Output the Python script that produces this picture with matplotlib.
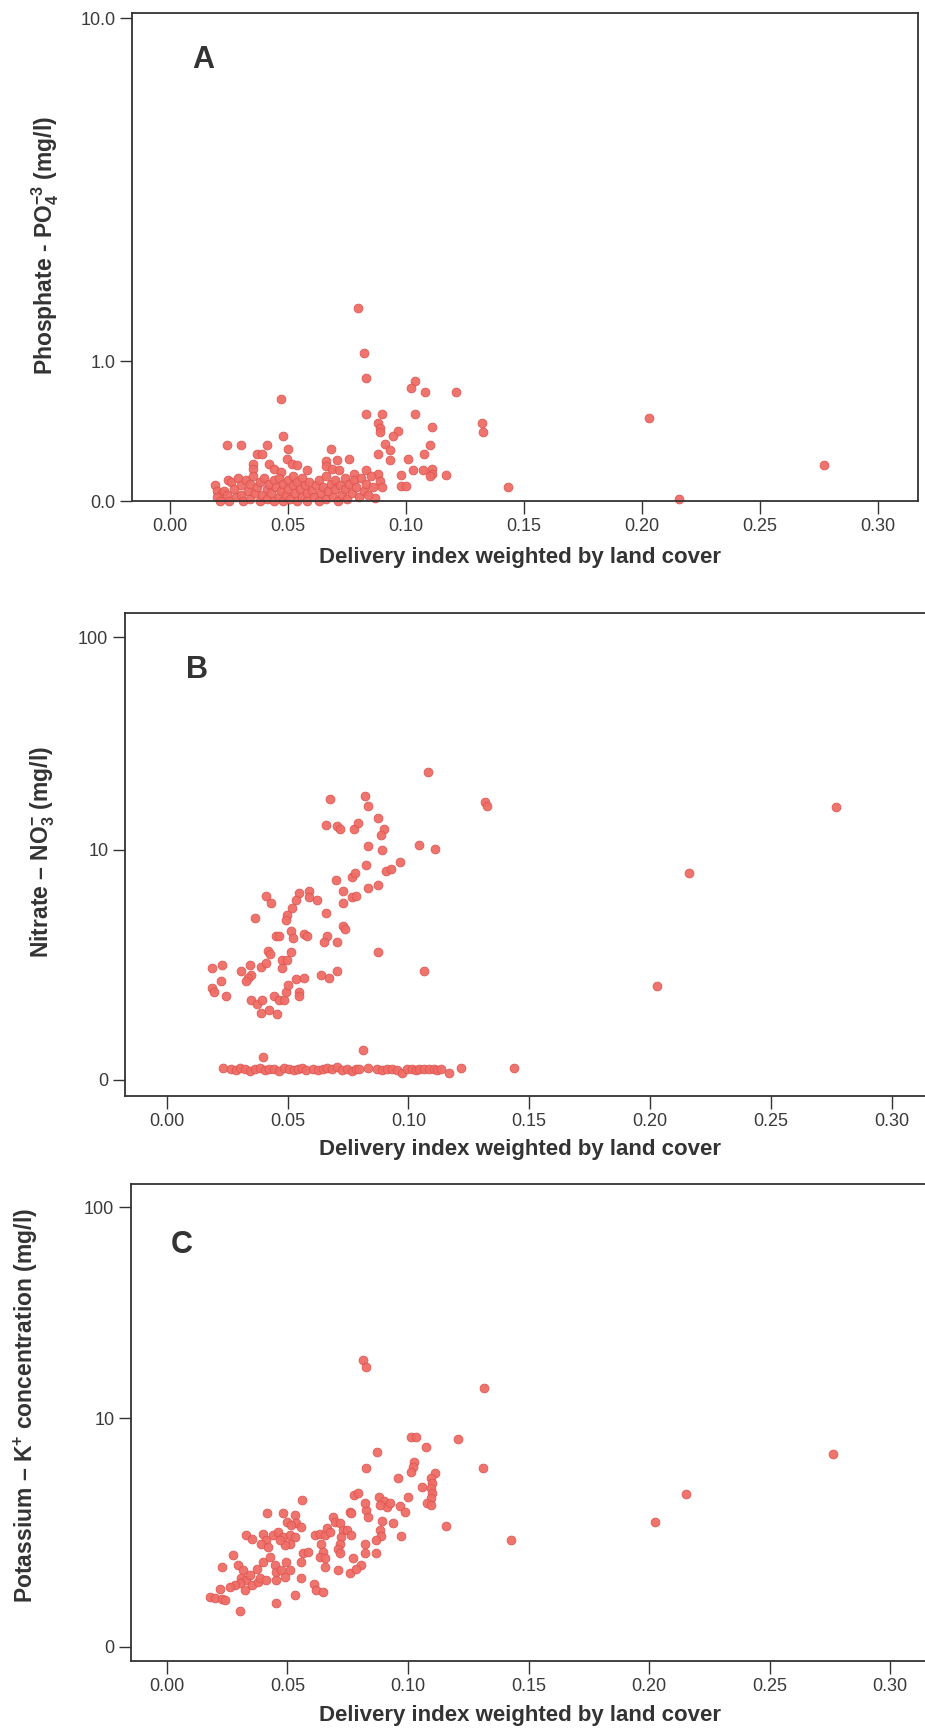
"""Three stacked scatter panels: nutrient concentration vs delivery index."""

import numpy as np
import matplotlib
matplotlib.use("Agg")
import matplotlib.pyplot as plt

plt.rcParams["font.family"] = ["Liberation Sans", "DejaVu Sans"]
plt.rcParams["mathtext.fontset"] = "custom"
plt.rcParams["mathtext.rm"] = "Liberation Sans:bold"
plt.rcParams["mathtext.default"] = "rm"

W, H = 925, 1730

# --- data -------------------------------------------------------------------
# Panel A: phosphate
a_x = [0.0796, 0.082, 0.083, 0.104, 0.102, 0.108, 0.121, 0.047, 0.083, 0.090,
       0.104, 0.088, 0.089, 0.089, 0.111, 0.132, 0.1325, 0.0965, 0.0944, 0.048,
       0.024, 0.030, 0.041, 0.050, 0.068, 0.091, 0.093, 0.110, 0.1075, 0.088,
       0.093, 0.101, 0.076, 0.037, 0.039, 0.035, 0.035, 0.042, 0.044, 0.047,
       0.0495, 0.0516, 0.054, 0.058, 0.066, 0.066, 0.0686, 0.0715, 0.0707, 0.083,
       0.078, 0.103, 0.107, 0.111, 0.111, 0.110, 0.117, 0.098, 0.098, 0.100,
       0.088, 0.089, 0.090, 0.143, 0.0246, 0.019, 0.020, 0.022, 0.023, 0.087,
       0.203, 0.2155, 0.277,
       0.026, 0.027, 0.028, 0.029, 0.030, 0.030, 0.031, 0.032, 0.033, 0.034,
       0.034, 0.035, 0.036, 0.037, 0.038, 0.038, 0.039, 0.040, 0.041, 0.041,
       0.042, 0.043, 0.044, 0.044, 0.045, 0.046, 0.046, 0.047, 0.048, 0.048,
       0.049, 0.050, 0.050, 0.051, 0.052, 0.052, 0.053, 0.054, 0.054, 0.055,
       0.056, 0.056, 0.057, 0.058, 0.058, 0.059, 0.060, 0.061, 0.062, 0.063,
       0.063, 0.064, 0.065, 0.066, 0.066, 0.067, 0.068, 0.069, 0.070, 0.070,
       0.071, 0.072, 0.073, 0.074, 0.074, 0.075, 0.076, 0.077, 0.078, 0.079,
       0.080, 0.081, 0.082, 0.083, 0.084, 0.085, 0.086, 0.020, 0.021, 0.024,
       0.025]
a_y = [1.61, 1.087, 0.844, 0.816, 0.754, 0.719, 0.719, 0.661, 0.541, 0.541,
       0.541, 0.474, 0.438, 0.409, 0.445, 0.474, 0.409, 0.416, 0.382, 0.382,
       0.321, 0.321, 0.321, 0.295, 0.295, 0.328, 0.289, 0.321, 0.263, 0.263,
       0.226, 0.232, 0.232, 0.263, 0.263, 0.202, 0.172, 0.202, 0.172, 0.155,
       0.232, 0.202, 0.196, 0.167, 0.220, 0.190, 0.172, 0.167, 0.226, 0.167,
       0.144, 0.167, 0.167, 0.172, 0.144, 0.132, 0.138, 0.138, 0.077, 0.077,
       0.144, 0.104, 0.072, 0.072, 0.110, 0.083, 0.051, 0.040, 0.051, 0.015,
       0.511, 0.010, 0.196,
       0.10, 0.06, 0.02, 0.12, 0.08, 0.03, 0.00, 0.11, 0.05, 0.09,
       0.01, 0.13, 0.04, 0.07, 0.00, 0.10, 0.03, 0.12, 0.06, 0.01,
       0.09, 0.04, 0.11, 0.00, 0.07, 0.02, 0.12, 0.05, 0.09, 0.00,
       0.03, 0.11, 0.06, 0.01, 0.08, 0.13, 0.04, 0.10, 0.00, 0.06,
       0.02, 0.12, 0.08, 0.04, 0.00, 0.10, 0.05, 0.02, 0.08, 0.00,
       0.11, 0.04, 0.07, 0.01, 0.13, 0.05, 0.09, 0.02, 0.11, 0.06,
       0.00, 0.08, 0.03, 0.12, 0.06, 0.01, 0.09, 0.04, 0.11, 0.07,
       0.02, 0.12, 0.05, 0.09, 0.03, 0.13, 0.07, 0.02, 0.00, 0.03,
       0.00]

# Panel B: nitrate
b_x = [0.1083, 0.1318, 0.1325, 0.0676, 0.0821, 0.0831, 0.0658, 0.0704, 0.0717, 0.0775,
       0.0793, 0.0876, 0.0897, 0.0888, 0.0831, 0.0890, 0.1042, 0.1109, 0.0964, 0.0907,
       0.0927, 0.0826, 0.0766, 0.0779, 0.0699, 0.0731, 0.0831, 0.0876, 0.0768, 0.0785,
       0.0730, 0.0410, 0.0430, 0.0548, 0.0589, 0.0589, 0.0620, 0.0534, 0.0520, 0.0499,
       0.0495, 0.0364, 0.0658, 0.0730, 0.0738, 0.0451, 0.0465, 0.0513, 0.0524, 0.0568,
       0.0579, 0.0662, 0.0651, 0.0704, 0.0876, 0.0419, 0.0426, 0.0513, 0.0476, 0.0499,
       0.0189, 0.0230, 0.0306, 0.0345, 0.0348, 0.0334, 0.0327, 0.0389, 0.0410, 0.0475,
       0.0224, 0.0189, 0.0196, 0.0244, 0.0348, 0.0375, 0.0396, 0.0389, 0.0423, 0.0458,
       0.0444, 0.0465, 0.0486, 0.0492, 0.0502, 0.0534, 0.0566, 0.0548, 0.0548, 0.0637,
       0.0672, 0.0704, 0.1065, 0.203, 0.216, 0.277,
       0.0400, 0.0813,
       0.0234, 0.0265, 0.0285, 0.0305, 0.0325, 0.0345, 0.0365, 0.0385, 0.0405, 0.0425,
       0.0445, 0.0465, 0.0485, 0.0505, 0.0525, 0.0545, 0.0560, 0.0575, 0.0603, 0.0625,
       0.0645, 0.0665, 0.0685, 0.0705, 0.0725, 0.0745, 0.0765, 0.0785, 0.0796, 0.0831,
       0.0872, 0.0892, 0.0912, 0.0932, 0.0952, 0.0975, 0.0995, 0.1015, 0.1030, 0.1044,
       0.1065, 0.1085, 0.1105, 0.1120, 0.1134, 0.1166, 0.1217, 0.1435]
b_y = [23.7, 17.1, 16.4, 17.6, 18.2, 16.4, 13.2, 13.1, 12.7, 12.7,
       13.5, 14.3, 12.6, 11.9, 10.5, 10.0, 10.6, 10.1, 8.7, 7.8,
       8.0, 8.4, 7.3, 7.6, 7.0, 6.2, 6.4, 6.6, 5.7, 5.8,
       5.3, 5.8, 5.3, 6.0, 6.2, 5.7, 5.5, 5.5, 5.0, 4.6,
       4.3, 4.4, 4.7, 4.0, 3.8, 3.5, 3.5, 3.7, 3.4, 3.6,
       3.5, 3.5, 3.2, 3.2, 2.8, 2.85, 2.7, 2.8, 2.5, 2.5,
       2.2, 2.3, 2.1, 2.3, 2.0, 1.9, 1.8, 2.25, 2.4, 2.2,
       1.8, 1.6, 1.5, 1.4, 1.3, 1.2, 1.3, 1.0, 1.07, 0.99,
       1.4, 1.3, 1.3, 1.5, 1.7, 1.86, 1.9, 1.5, 1.4, 2.0,
       1.9, 2.1, 2.1, 1.65, 7.6, 16.2,
       0.275, 0.368,
       0.13, 0.12, 0.11, 0.13, 0.12, 0.10, 0.12, 0.13, 0.11, 0.12,
       0.12, 0.10, 0.13, 0.12, 0.11, 0.12, 0.13, 0.11, 0.12, 0.11,
       0.12, 0.13, 0.12, 0.14, 0.11, 0.12, 0.10, 0.12, 0.12, 0.13,
       0.12, 0.11, 0.12, 0.12, 0.11, 0.08, 0.12, 0.12, 0.11, 0.12,
       0.12, 0.12, 0.12, 0.11, 0.12, 0.08, 0.13, 0.13]

# Panel C: potassium
c_x = [0.0813, 0.0824, 0.1314, 0.1014, 0.1034, 0.1208, 0.1076, 0.0871, 0.1311, 0.0824,
       0.1027, 0.1020, 0.1014, 0.1114, 0.1097, 0.1101, 0.1097, 0.1101, 0.1097, 0.1077,
       0.1097, 0.1058, 0.0957, 0.1000, 0.0775, 0.0793, 0.0880, 0.0900, 0.0913, 0.0882,
       0.0924, 0.0965, 0.0986, 0.0892, 0.0937, 0.1156, 0.0972, 0.0882, 0.0889, 0.0869,
       0.0820, 0.0823, 0.0869, 0.0772, 0.0806, 0.0758, 0.0785, 0.0710, 0.0654, 0.0758,
       0.0765, 0.0827, 0.0834, 0.0820, 0.0689, 0.0696, 0.0717, 0.0731, 0.0724, 0.0717,
       0.0710, 0.0717, 0.0745, 0.0765, 0.0613, 0.0634, 0.0655, 0.0662, 0.0676, 0.0641,
       0.0648, 0.0634, 0.0655, 0.0562, 0.0416, 0.0482, 0.0497, 0.0532, 0.0537, 0.0558,
       0.0516, 0.0330, 0.0351, 0.0399, 0.0413, 0.0392, 0.0420, 0.0440, 0.0461, 0.0482,
       0.0509, 0.0530, 0.0509, 0.0489, 0.0468, 0.0275, 0.0227, 0.0295, 0.0316, 0.0309,
       0.0330, 0.0302, 0.0344, 0.0351, 0.0323, 0.0282, 0.0261, 0.0378, 0.0385, 0.0413,
       0.0372, 0.0399, 0.0427, 0.0447, 0.0454, 0.0475, 0.0496, 0.0489, 0.0509, 0.0454,
       0.0558, 0.0565, 0.0558, 0.0586, 0.0220, 0.0178, 0.0199, 0.0227, 0.0240, 0.0302,
       0.0452, 0.0530, 0.0609, 0.0620, 0.0648, 0.1428, 0.2024, 0.2153, 0.2764]
c_y = [19.4, 17.9, 14.2, 8.05, 8.0, 7.9, 7.15, 6.7, 5.5, 5.5,
       5.96, 5.6, 5.27, 5.2, 4.85, 4.55, 4.27, 4.0, 3.74, 3.53,
       3.42, 4.35, 4.9, 3.82, 3.94, 4.0, 3.82, 3.62, 3.34, 3.42,
       3.5, 3.37, 3.12, 2.73, 2.67, 2.54, 2.19, 2.42, 2.19, 2.06,
       1.95, 1.66, 1.66, 1.53, 1.35, 1.17, 1.27, 1.23, 1.3, 3.12,
       3.05, 3.19, 2.91, 3.5, 2.91, 2.71, 2.65, 2.42, 2.17, 1.95,
       1.80, 1.66, 2.42, 2.22, 2.22, 2.28, 2.22, 2.46, 2.34, 1.95,
       1.71, 1.57, 1.53, 3.66, 3.05, 3.05, 2.71, 2.98, 2.65, 2.52,
       2.58, 2.22, 2.11, 2.28, 2.06, 1.95, 1.85, 2.22, 2.34, 2.17,
       2.22, 2.17, 1.95, 1.90, 2.06, 1.61, 1.31, 1.35, 1.23, 1.05,
       1.01, 0.94, 1.12, 0.91, 0.81, 0.91, 0.87, 0.975, 1.05, 1.01,
       1.27, 1.44, 1.57, 1.35, 1.19, 1.23, 1.44, 1.08, 1.23, 1.01,
       1.05, 1.66, 1.44, 1.71, 0.84, 0.69, 0.66, 0.64, 0.63, 0.457,
       0.58, 0.72, 0.92, 0.81, 0.77, 2.08, 2.70, 3.99, 6.58]

x_ticks = [0.00, 0.05, 0.10, 0.15, 0.20, 0.25, 0.30]
x_ticklabels = ["0.00", "0.05", "0.10", "0.15", "0.20", "0.25", "0.30"]
x_title = "Delivery index weighted by land cover"

POINT = "#F06C66"
EDGE = "#DD5550"
INK = "#333333"


def fwd(v):
    v = np.asarray(v, dtype=float)
    return np.log10(np.maximum(v + 1.0, 1e-9))


def inv(v):
    return 10.0 ** np.asarray(v, dtype=float) - 1.0


def add_axes_px(fig, left, top, right, bottom):
    return fig.add_axes([left / W, 1 - bottom / H, (right - left) / W, (bottom - top) / H])


def fig_text(fig, x, y, s, **kw):
    fig.text(x / W, 1 - y / H, s, ha="center", va="center", color=INK, **kw)


def draw_panel(ax, xs, ys, xlim, ylim, yticks, yticklabels):
    ax.set_yscale("function", functions=(fwd, inv))
    ax.scatter(xs, ys, s=40, facecolor=POINT, edgecolor=EDGE, linewidths=0.6,
               alpha=0.95, clip_on=False, zorder=2)
    ax.set_xlim(*xlim)
    ax.set_ylim(*ylim)
    ax.set_xticks(x_ticks)
    ax.set_xticklabels(x_ticklabels)
    ax.set_yticks(yticks)
    ax.set_yticklabels(yticklabels)
    ax.minorticks_off()
    ax.tick_params(direction="out", length=9, width=1.0, color=INK,
                   labelsize=13, labelcolor="#3a3a3a", pad=3)
    for side in ("left", "bottom", "top", "right"):
        ax.spines[side].set_color(INK)
        ax.spines[side].set_linewidth(1.3)
        ax.spines[side].set_zorder(3)


fig = plt.figure(figsize=(W / 100, H / 100), dpi=100)

ax_a = add_axes_px(fig, 132, 13, 918, 501)
draw_panel(ax_a, a_x, a_y, (-0.0161, 0.3169), (0.0, 10.28),
           [0.0, 1.0, 10.0], ["0.0", "1.0", "10.0"])

ax_b = add_axes_px(fig, 125, 613, 940, 1096)
draw_panel(ax_b, b_x, b_y, (-0.0173, 0.3200), (-0.154, 128.8),
           [0, 10, 100], ["0", "10", "100"])

ax_c = add_axes_px(fig, 131, 1184, 940, 1661)
draw_panel(ax_c, c_x, c_y, (-0.0149, 0.3207), (-0.141, 128.2),
           [0, 10, 100], ["0", "10", "100"])

# axis titles and panel letters
for ty in (557, 1149, 1716):
    fig_text(fig, 520, ty, x_title, fontsize=16, fontweight="bold")

fig_text(fig, 45, 246, "Phosphate - PO$_4^{-3}$ (mg/l)", fontsize=16.5,
         fontweight="bold", rotation=90)
fig_text(fig, 43, 852, "Nitrate \u2013 NO$_3^{-}$ (mg/l)", fontsize=16.5,
         fontweight="bold", rotation=90)
fig_text(fig, 26, 1406, "Potassium \u2013 K$^{+}$ concentration (mg/l)", fontsize=16.5,
         fontweight="bold", rotation=90)

letter_font = ["Liberation Sans Narrow", "Liberation Sans", "DejaVu Sans"]
fig_text(fig, 203, 60, "A", fontsize=22, fontweight="bold", family=letter_font)
fig_text(fig, 197, 670, "B", fontsize=22, fontweight="bold", family=letter_font)
fig_text(fig, 182, 1245, "C", fontsize=22, fontweight="bold", family=letter_font)

fig.savefig("out.png", dpi=100)
